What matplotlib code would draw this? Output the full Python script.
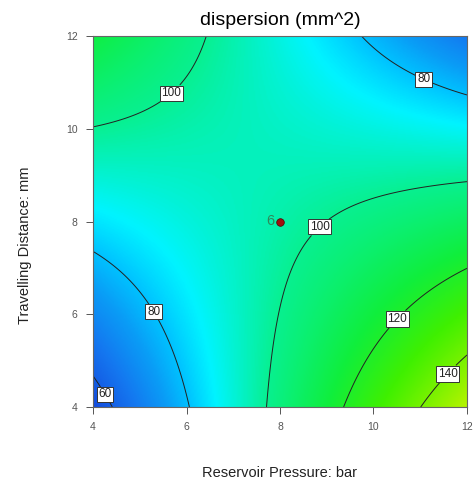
import numpy as np
import matplotlib
matplotlib.use('Agg')
import matplotlib.pyplot as plt
from matplotlib.colors import LinearSegmentedColormap, Normalize

plt.rcParams['font.family'] = ['Liberation Sans', 'DejaVu Sans']

# fitted response surface (coded units)
# dispersion = b0 + bA*A + bB*B + bAB*A*B
coef_names = ['b0', 'bA', 'bB', 'bAB']
coef_values = [97.0, 12.2, -6.5, -36.3]

pressure_range = [4, 12]      # bar
distance_range = [4, 12]      # mm
contour_levels = [60, 80, 100, 120, 140]
ticks = [4, 6, 8, 10, 12]

# design point (centre, 6 replicates)
point_x = [8]
point_y = [8]
point_n = ['6']

# colour ramp, value -> colour
ramp_values = [52, 66, 74, 80, 87, 100, 116, 130, 155]
ramp_colors = ['#1440d8', '#1478f0', '#0a9cf6', '#00c2ff', '#00f4ff',
               '#08f090', '#10ee3c', '#40f000', '#c4f400']

coef = dict(zip(coef_names, coef_values))
x = np.linspace(*pressure_range, 300)
y = np.linspace(*distance_range, 300)
X, Y = np.meshgrid(x, y)
A = (X - 8) / 4
B = (Y - 8) / 4
Z = coef['b0'] + coef['bA'] * A + coef['bB'] * B + coef['bAB'] * A * B

vmin, vmax = ramp_values[0], ramp_values[-1]
pos = [(v - vmin) / (vmax - vmin) for v in ramp_values]
cmap = LinearSegmentedColormap.from_list('de', list(zip(pos, ramp_colors)))

fig = plt.figure(figsize=(4.77, 4.90), dpi=100)
ax = fig.add_axes([0.195, 0.1694, 0.784, 0.7571])

ax.imshow(Z, extent=[4, 12, 4, 12], origin='lower', cmap=cmap,
          norm=Normalize(vmin, vmax), aspect='auto', interpolation='bilinear')
cs = ax.contour(X, Y, Z, levels=contour_levels, colors='#222222', linewidths=0.7)
label_pos = [(4.3, 4.3), (5.45, 6.15), (11.2, 11.35), (5.6, 10.85),
             (9.0, 7.72), (10.45, 5.95), (11.6, 4.7)]
labels = ax.clabel(cs, fmt='%d', fontsize=8.5, inline=True, inline_spacing=2,
                   manual=label_pos)
for t in labels:
    t.set_rotation(0)
    t.set_bbox(dict(facecolor='white', edgecolor='#333333', pad=1.2, linewidth=0.7))

ax.scatter(point_x, point_y, s=30, color='#a01010', edgecolor='#500000',
           linewidth=0.5, zorder=5)
for px, py, n in zip(point_x, point_y, point_n):
    ax.text(px - 0.12, py + 0.02, n, color='#2f8a5a', fontsize=10.5,
            ha='right', va='center', zorder=5)

ax.set_xlim(pressure_range)
ax.set_ylim(distance_range)
ax.set_xticks(ticks)
ax.set_yticks(ticks)
ax.tick_params(direction='out', length=5, width=0.7, color='#555555',
               labelsize=7.5, labelcolor='#555555', pad=6)
for sp in ax.spines.values():
    sp.set_color('#666666')
    sp.set_linewidth(0.8)

fig.text(0.587, 0.948, 'dispersion (mm^2)', ha='center', va='baseline', fontsize=14)
fig.text(0.587, 0.027, 'Reservoir Pressure: bar', ha='center', va='baseline',
         fontsize=10.5, color='#222222')
fig.text(0.052, 0.5, 'Travelling Distance: mm', ha='center', va='center',
         rotation=90, fontsize=10.5, color='#222222')

fig.savefig('out.png', dpi=100, facecolor='white')
